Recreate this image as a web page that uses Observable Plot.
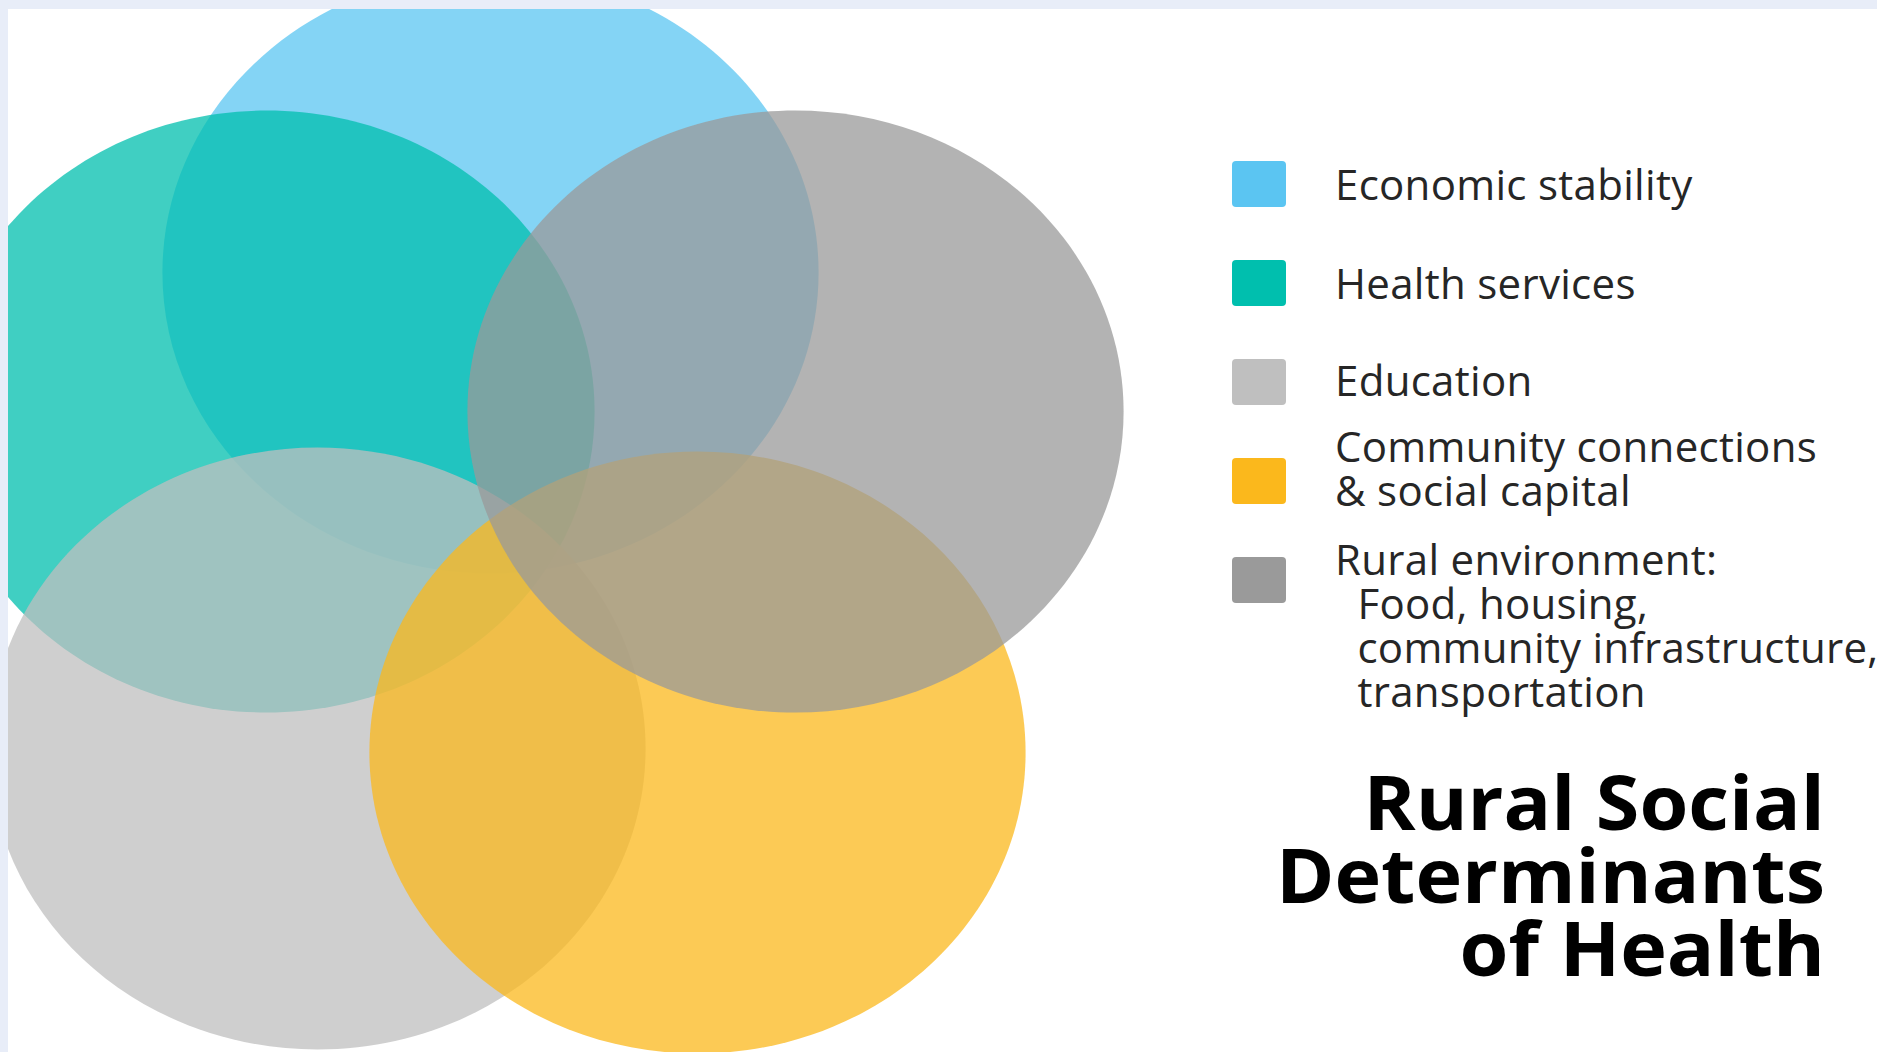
<!DOCTYPE html>
<html>
<head>
<meta charset="utf-8">
<script src="https://cdn.jsdelivr.net/npm/d3@7"></script>
<script src="https://cdn.jsdelivr.net/npm/@observablehq/plot@0.6"></script>
<style>
  html, body { margin: 0; padding: 0; width: 1877px; height: 1052px; overflow: hidden; background: #e8edf8; }
  #frame { position: absolute; left: 8px; top: 9px; width: 1869px; height: 1043px; background: #ffffff; overflow: hidden; }
  #chart { position: absolute; left: 0; top: 0; }
  .sw { position: absolute; left: 1224px; width: 54px; height: 46px; border-radius: 4px; }
  .lt { position: absolute; left: 1327px; font-family: "Open Sans", sans-serif; font-size: 42px; line-height: 44px; letter-spacing: 0.3px; color: #262626; white-space: pre; }
  #title { position: absolute; right: 52px; top: 755px; font-family: "Open Sans", sans-serif; font-weight: 700; font-size: 76px; line-height: 73px; text-align: right; color: #000; white-space: pre; transform: scaleX(1.04); transform-origin: right top; }
</style>
</head>
<body>
<div id="frame">
  <div id="chart"></div>
  <div id="legend"></div>
  <div id="title"></div>
</div>
<script>
// ---- data ----
const categories = [
  "Economic stability",
  "Health services",
  "Education",
  "Community connections & social capital",
  "Rural environment: Food, housing, community infrastructure, transportation"
];
const legendLines = [
  ["Economic stability"],
  ["Health services"],
  ["Education"],
  ["Community connections", "& social capital"],
  ["Rural environment:", "  Food, housing,", "  community infrastructure,", "  transportation"]
];
const colors = ["#5bc5f2", "#00bfae", "#bfbfbf", "#fbb81c", "#9a9a9a"];
// circle centres and radii, in reference-picture units
const centerX = [490, 266, 317, 697, 795];
const centerY = [272, 411, 748, 752, 411];
const radius  = [301, 301, 301, 301, 301];
const titleLines = ["Rural Social", "Determinants", "of Health"];

// ---- chart ----
const W = 1180, H = 1043;
const stretch = 1.09; // circles are drawn slightly wider than tall, as in the reference
const ellipse = {
  draw(ctx, size) {
    const ry = Math.sqrt(size / Math.PI), rx = ry * stretch, k = 0.5522847498;
    ctx.moveTo(rx, 0);
    ctx.bezierCurveTo(rx, ry * k, rx * k, ry, 0, ry);
    ctx.bezierCurveTo(-rx * k, ry, -rx, ry * k, -rx, 0);
    ctx.bezierCurveTo(-rx, -ry * k, -rx * k, -ry, 0, -ry);
    ctx.bezierCurveTo(rx * k, -ry, rx, -ry * k, rx, 0);
    ctx.closePath();
  }
};
const data = categories.map((c, i) => ({category: c, cx: centerX[i], cy: centerY[i], r: radius[i]}));

const plot = Plot.plot({
  width: W,
  height: H,
  margin: 0,
  style: {background: "transparent"},
  x: {domain: [8, 8 + W], range: [0, W], axis: null},
  y: {domain: [9, 9 + H], range: [0, H], axis: null},
  r: {type: "linear", domain: [0, 301], range: [0, 301]},
  color: {domain: categories, range: colors},
  marks: [
    Plot.dot(data, {x: "cx", y: "cy", r: "r", fill: "category", fillOpacity: 0.75, symbol: ellipse, sort: null})
  ]
});
document.getElementById("chart").appendChild(plot);

// ---- legend ----
const swatchTop = [152, 251, 350, 449, 548];
const textTop = [153, 252, 349, 415, 528];
const legend = document.getElementById("legend");
legendLines.forEach((lines, i) => {
  const sw = document.createElement("div");
  sw.className = "sw";
  sw.style.top = swatchTop[i] + "px";
  sw.style.background = colors[i];
  legend.appendChild(sw);
  const t = document.createElement("div");
  t.className = "lt";
  t.style.top = textTop[i] + "px";
  t.textContent = lines.join("\n");
  legend.appendChild(t);
});

// ---- title ----
document.getElementById("title").textContent = titleLines.join("\n");
</script>
</body>
</html>
